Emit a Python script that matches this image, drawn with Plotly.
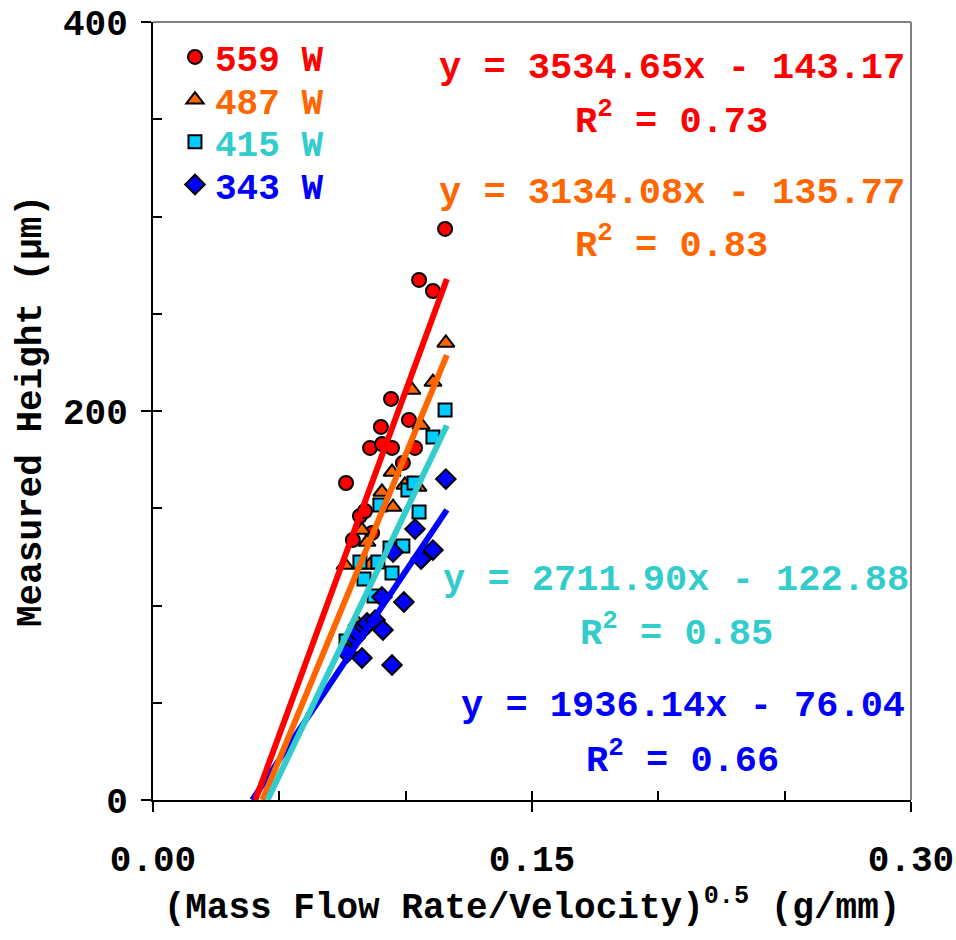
import numpy as np
import plotly.graph_objects as go

# ---- data ----
series_names = ["559 W", "487 W", "415 W", "343 W"]

x_559 = [0.0764, 0.0791, 0.0819, 0.0839, 0.0859, 0.0867, 0.0902, 0.0906, 0.0942, 0.0946,
         0.0989, 0.1013, 0.1037, 0.1053, 0.1108, 0.1156]
y_559 = [163.0, 133.7, 146.0, 148.6, 181.0, 137.3, 191.8, 183.0, 206.2, 181.0,
         173.3, 195.4, 181.0, 267.4, 261.7, 293.6]

x_487 = [0.0760, 0.0807, 0.0827, 0.0847, 0.0859, 0.0906, 0.0946, 0.0950, 0.0997, 0.1025,
         0.1049, 0.1061, 0.1108, 0.1159]
y_487 = [120.8, 91.5, 138.8, 132.6, 120.8, 158.4, 168.6, 150.6, 162.0, 210.8,
         160.9, 192.8, 214.9, 235.0]

x_415 = [0.0764, 0.0819, 0.0835, 0.0875, 0.0890, 0.0898, 0.0938, 0.0946, 0.0989, 0.1009,
         0.1033, 0.1053, 0.1108, 0.1156]
y_415 = [81.7, 122.4, 113.6, 104.9, 122.4, 151.7, 129.6, 116.7, 130.6, 159.4,
         163.0, 148.1, 186.6, 200.5]

x_343 = [0.0768, 0.0799, 0.0807, 0.0827, 0.0839, 0.0847, 0.0879, 0.0906, 0.0910, 0.0946,
         0.0950, 0.0993, 0.1037, 0.1061, 0.1108, 0.1159]
y_343 = [75.6, 83.3, 86.4, 73.0, 88.9, 91.0, 92.5, 104.4, 87.4, 69.4,
         127.5, 101.8, 139.3, 123.9, 128.5, 165.0]

# linear fits shown on the chart
slopes = [3534.65, 3134.08, 2711.90, 1936.14]
intercepts = [-143.17, -135.77, -122.88, -76.04]
r2_values = [0.73, 0.83, 0.85, 0.66]
fit_x_end = 0.1163

xs = [x_559, x_487, x_415, x_343]
ys = [y_559, y_487, y_415, y_343]

# ---- styles ----
FONT = "Liberation Mono, Courier New, DejaVu Sans Mono, monospace"
marker_symbols = ["circle", "triangle-up", "square", "diamond"]
marker_sizes = [14, 15, 13, 15]
marker_fills = ["#FF0000", "#FF6600", "#00CCFF", "#0000FF"]
text_colors = ["#FF0000", "#FF6600", "#33CCCC", "#0000FF"]
line_colors = ["#FF0000", "#FF6600", "#33CCCC", "#0000FF"]
legend_y = [0.955, 0.900, 0.846, 0.791]
eq_pos = [(0.2054, 376.3, 350.6), (0.2054, 312.1, 286.4),
          (0.2070, 113.1, 87.4), (0.2097, 48.3, 22.1)]


def bold(s):
    return f"<b>{s}</b>"


fig = go.Figure()

for i in range(4):
    fig.add_trace(go.Scatter(
        x=xs[i], y=ys[i], mode="markers", name=bold(series_names[i]),
        legend="legend" if i == 0 else f"legend{i+1}",
        marker=dict(symbol=marker_symbols[i], size=marker_sizes[i],
                    color=marker_fills[i], line=dict(color="black", width=2)),
        cliponaxis=False,
    ))

for i in [3, 0, 1, 2]:
    x0 = -intercepts[i] / slopes[i]
    lx = np.array([x0, fit_x_end])
    ly = slopes[i] * lx + intercepts[i]
    fig.add_trace(go.Scatter(
        x=lx, y=ly, mode="lines", showlegend=False,
        xaxis="x2", yaxis="y2",
        line=dict(color=line_colors[i], width=6),
    ))

annotations = []
for i in range(4):
    ex, ey, ry = eq_pos[i]
    sign = "-" if intercepts[i] < 0 else "+"
    annotations.append(dict(
        x=ex, y=ey, xref="x", yref="y", showarrow=False,
        xanchor="center", yanchor="middle",
        text=bold(f"y = {slopes[i]:.2f}x {sign} {abs(intercepts[i]):.2f}"),
        font=dict(family=FONT, size=37, color=text_colors[i]),
    ))
    annotations.append(dict(
        x=ex, y=ry, xref="x", yref="y", showarrow=False,
        xanchor="center", yanchor="middle",
        text=bold(f"R<sup>2</sup> = {r2_values[i]:.2f}"),
        font=dict(family=FONT, size=37, color=text_colors[i]),
    ))

legends = {}
for i in range(4):
    key = "legend" if i == 0 else f"legend{i+1}"
    legends[key] = dict(
        x=0.029, y=legend_y[i], xanchor="left", yanchor="middle",
        bgcolor="rgba(0,0,0,0)", borderwidth=0,
        font=dict(family=FONT, size=36, color=text_colors[i]),
    )

tickfont = dict(family=FONT, size=36, color="black")

fig.update_layout(
    width=956, height=940,
    margin=dict(l=153, r=45, t=22, b=140),
    paper_bgcolor="white", plot_bgcolor="white",
    font=dict(family=FONT, size=36, color="black"),
    annotations=annotations,
    xaxis=dict(
        range=[0, 0.30], tickvals=[0, 0.15, 0.30],
        ticktext=[bold("0.00"), bold("0.15"), bold("0.30")],
        showgrid=False, zeroline=False, automargin=False,
        showline=True, linecolor="black", linewidth=2,
        ticks="outside", ticklen=10, tickwidth=2, tickcolor="black",
        ticklabelstandoff=16,
        tickfont=tickfont,
        title=dict(text=bold("(Mass Flow Rate/Velocity)<sup>0.5</sup> (g/mm)"),
                   font=dict(family=FONT, size=36, color="black"),
                   standoff=12),
    ),
    yaxis=dict(
        range=[0, 400], tickvals=[0, 200, 400],
        ticktext=[bold("0"), bold("200"), bold("400")],
        showgrid=False, zeroline=False, automargin=False,
        showline=True, linecolor="black", linewidth=2,
        ticks="outside", ticklen=10, tickwidth=2, tickcolor="black",
        ticklabelstandoff=6,
        tickfont=tickfont,
        title=dict(text=bold("Measured Height (µm)"),
                   font=dict(family=FONT, size=36, color="black"),
                   standoff=10),
    ),
    xaxis2=dict(
        overlaying="x", anchor="y2", side="bottom", range=[0, 0.30],
        dtick=0.05, tick0=0, ticks="inside", ticklen=9, tickwidth=2,
        tickcolor="black", showticklabels=False, showgrid=False,
        zeroline=False, showline=False, automargin=False,
    ),
    yaxis2=dict(
        overlaying="y", anchor="x2", side="left", range=[0, 400],
        dtick=50, tick0=0, ticks="inside", ticklen=9, tickwidth=2,
        tickcolor="black", showticklabels=False, showgrid=False,
        zeroline=False, showline=False, automargin=False,
    ),
    shapes=[
        dict(type="line", xref="paper", yref="paper", x0=0, y0=1, x1=1, y1=1,
             line=dict(color="#808080", width=2), layer="below"),
        dict(type="line", xref="paper", yref="paper", x0=1, y0=1, x1=1, y1=0,
             line=dict(color="#808080", width=2), layer="below"),
    ],
    **legends,
)

fig.write_html("out.html")
